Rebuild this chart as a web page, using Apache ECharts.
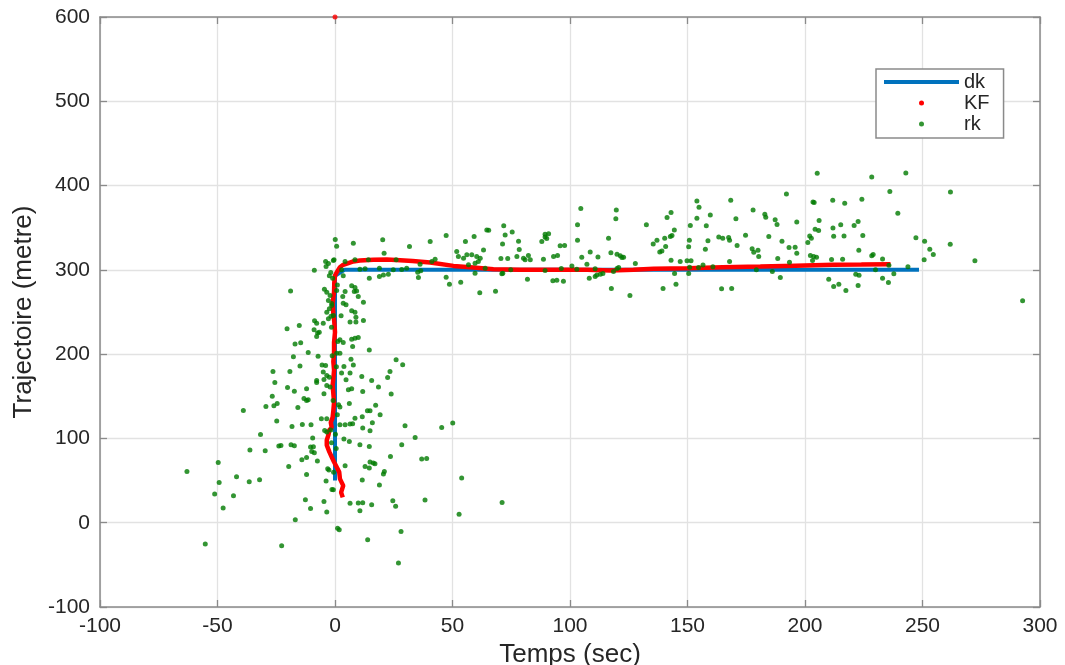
<!DOCTYPE html>
<html>
<head>
<meta charset="utf-8">
<script src="https://cdn.jsdelivr.net/npm/echarts@6/dist/echarts.min.js"></script>
<style>
html,body{margin:0;padding:0;background:#fff;}
#chart{width:1065px;height:665px;}
</style>
</head>
<body>
<div id="chart"></div>
<script>
// ---- data ----
const xTickMin = -100, xTickMax = 300, xTickStep = 50;
const yTickMin = -100, yTickMax = 600, yTickStep = 100;

// dk : reference trajectory
const dkT = [0, 0, 4, 248.5];
const dkY = [50, 293, 300, 300];

// KF : Kalman estimate
const kfT = [3.3,2.6,3.5,2.1,1.8,0.7,-0.4,-1.4,-2.4,-3.5,-3.5,-2.8,-2.4,-1.4,-1.8,-1.0,-0.7,-0.4,-0.7,-1.0,-0.7,-0.4,-0.7,-0.4,-0.4,0,-0.3,-0.7,-1.0,-0.4,-0.3,0,0.7,2.1,3.5,5.7,7.8,10.6,16.3,22,27.7,33,40.5,50.4,58.9,67.4,78.8,93,107.2,117.1,127,135.6,150,165,181,196,212,224,236.4];
const kfY = [30,36,44,52,60,66,72,78,84,92,98,104,110,113,119,125,133,143,153,163,171,181,191,202,214,226,238,248,260,274,285,293,297,303,306,308,310,311,312,312.3,311.5,310.5,308.7,304.7,302.8,300.8,300,300,300,299.3,300,301.2,302,303,304,305,306,306.3,306.7];
// isolated first KF sample on the top border
const kfStart = [[0, 600]];

// rk : noisy measurements [t, y]
const rk = [
[0.1,336],[0.7,328],[-4.0,310],[-2.8,307.5],[-0.4,312],[-8.8,299.6],[-1.8,297],[-2.4,293],[-18.9,275],[-4.5,277],[-3.5,273.5],[-2.1,269.6],[0.7,275.5],[-2.8,263.6],[-1.4,257.7],[-2.4,253.8],[-3.5,249.8],[-0.7,245.8],[-2.8,242],[-8.7,239.5],[-7.8,236.8],[-5.0,236.8],[-20.4,230],[-15.2,234],[-8.9,229],[-7.4,225],[-6.7,226],[-7.8,221],[-17.0,212],[-14.6,213.4],[-11.4,202],[-7.2,197.6],[-17.7,197],[-14.9,186],[-5.5,187],[-4.0,186.6],[-5.0,178.7],[-3.5,174.7],[-2.4,172.7],[-4.7,170],[-26.4,179.4],[-19.2,179.4],[-25.6,166.4],[-7.8,168.8],[-7.8,166.4],[-20.2,160.5],[-12.1,159],[-17.3,156],[-3.5,162.8],[-2.1,160.9],[-26.7,150],[-24.6,141.5],[-29.4,138],[-26,138.7],[-13.2,147.4],[-12.1,145],[-11.4,146],[-4.7,153],[-15.8,136.8],[-39.0,133.2],[-24.8,120.6],[-18.3,114.2],[-13.9,116.6],[-10.2,116.2],[-5.8,123.3],[-3.5,123.3],[-31.7,104.7],[-4.4,109.5],[-3.5,107.5],[-1.8,110],[-9.5,100.4],[-36.2,86.2],[-29.7,85.4],[-23.9,91],[-23,91.7],[-18.7,92.5],[-17.3,91.3],[-10.4,89.7],[-9.2,90.1],[-9.9,84.6],[-8.8,83],[-12.1,77.5],[-14.1,74.7],[-7.5,73.1],[-19.7,66.8],[-12.1,57.3],[-3.1,64],[-2.6,62.5],[-63.0,60.9],[-49.7,71.5],[-41.9,54.5],[-49.3,47.8],[-36.5,48.6],[-32.1,51],[-3.8,49.4],[-51.2,34],[-43.2,32],[-1.3,39.5],[-47.6,17.4],[-12.6,27.3],[-10.4,17],[-4.7,25.3],[-3.5,12.6],[-16.9,3.6],[1.1,-6.7],[-55.2,-25.3],[-22.7,-27.3],
[3.5,260.5],[4.7,258.5],[12.1,261.7],[2.6,245.5],[8.9,243.9],[7.1,251.4],[8.5,249.8],[6.4,238],[8.9,238],[12.1,240],[2.1,217],[7.1,217.8],[8.5,219],[9.9,219.8],[3.5,213.8],[7.5,209],[2.1,201],[14.6,205],[6.8,194],[26,193.3],[28.8,187.4],[3.8,185.4],[7.8,187],[2.8,177.5],[6.4,177.5],[11.4,173.5],[23.4,179.4],[22.4,172.3],[4.7,169.6],[15.6,168.8],[18.5,160.9],[5.7,157.7],[7.1,158.9],[11.8,155.7],[23.9,152.6],[6.1,141.5],[2.1,137.2],[17.3,139.5],[13.8,132.8],[14.9,132.8],[19.2,128],[8.5,124],[11.6,125.7],[2.1,116.2],[4.3,116.2],[6.4,117],[7.5,117.4],[15.9,118.6],[11.8,112.3],[14.9,109],[29.8,115],[45.4,113],[50.1,118.2],[34.1,101.2],[3.8,99.2],[6.1,96.4],[10.6,92.5],[14.6,90.5],[28.4,92.5],[23.6,78.7],[36.9,75.5],[39,76.3],[14.9,72],[16.3,70.8],[17,70],[4.3,67.6],[12.8,66.8],[14.6,64.8],[21,60.9],[20.6,57.7],[11.6,50.6],[18.9,44.7],[53.9,53],[-0.7,39],[6.4,23],[9.9,23.3],[11.8,23.7],[15.6,21.3],[24.6,26],[25.8,19.4],[38.3,26.9],[10.6,14.2],[52.8,9.9],[1.8,-8.3],[28.1,-10.3],[13.9,-20.2],[27,-47.8],[71.1,24],
[7.8,331.6],[20.3,335.6],[20.9,319.8],[31.7,327.7],[40.5,333.6],[47.3,340.7],[55.5,333.6],[59.2,339.5],[64.6,347.4],[63.2,323.7],[4.3,309.9],[8.5,311.9],[14.2,311.9],[26,311.9],[42.6,312.6],[41.2,309.9],[36.2,306.7],[51.8,321.7],[52.5,315.8],[54.7,313.8],[56.1,317.8],[58.2,317.8],[60.3,315.8],[61.8,313.8],[59.6,307.9],[61,309.9],[56.8,306],[59.6,296],[63.9,302],[10.6,300.8],[12.8,301.2],[18.9,302],[24.8,300],[28.4,300.4],[30.5,302],[36.5,298.8],[14.6,290],[18.9,292],[20.6,294],[22.7,294.7],[35.2,297.2],[35.5,291],[47.3,291.3],[48.7,283],[53.5,285.4],[61.6,272.7],[7.1,281],[8.5,279],[8.2,274.3],[9.9,268.4],[9.2,275],[4.3,274.3],[3.3,268.4],[3.5,293.1],[2.8,300],
[65.4,347],[71.8,352.2],[72.4,341.5],[75.4,345],[71.3,330.8],[78.1,334],[78.4,324.1],[77.4,315.8],[70.6,313.4],[73.5,313.4],[80.2,313.8],[82.3,317],[83.1,311.9],[80.9,311.9],[88.7,312.6],[93,315.8],[94.7,317],[88,333.6],[89.4,342.3],[90.1,337.2],[90.9,342.7],[89.4,339.1],[95.8,328.5],[97.7,328.9],[71.4,296],[71,295.3],[74.8,300],[81.9,289],[92.7,287],[94.4,287.7],[97.2,286.6],[68.3,274.7],[89.4,299.2],[96.3,301.6],[100.8,304.7],[102.9,300.8],[104.6,372.7],[103.2,353.4],[103.2,335.2],[105,315],[108.6,321.3],[111.9,315.4],[107.2,306.7],[110.7,301.2],[119.7,371.1],[119.5,360.5],[116.4,337.5],[117.4,320.2],[120,318.6],[121.4,316.6],[122.1,314.6],[122.8,315],[120.7,302.8],[120,301.6],[118.5,298],[108.2,290.1],[110.7,292.1],[111.4,294],[112.9,294.9],[114,295.7],[117.6,277.9],[125.5,269.6],[127.8,307.5],[132.5,353.4],[135.4,330.8],[137,335.2],[140.7,327.7],[138.2,321.3],[139.1,322.5],[143,311.5],[140.3,337.5],[142.7,339.5],[143.4,340.7],[144.4,347.4],[141.3,362],[143,368],[139.6,277.9],[145.1,283],[144.5,295.7],[146.9,309.9],[149.8,310.7],[154,381.8],[154.9,374.3],[154,361.3],[151.2,352.6],[150.8,335.2],[150.5,327.3],[151.5,310.7],[150.9,303.2],[150.5,295.7],[154.7,302.8],[156.6,305.9],[160.8,303.6],[159.7,365.2],[158,352.2],[158.7,334.4],[157.6,324.5],[163.3,339.1],[165,337.5],[167.5,338.3],[167.9,335.2],[171.1,328.9],[167.9,309.9],[168.4,382.6],[170.6,360.5],[174.7,341.1],[177.9,371.1],[177.5,324.9],[178.2,321],[180,323.3],[180.3,315.8],[179.3,300],[164.5,277.5],[168.8,277.9],
[182.9,366],[183.3,362.5],[187.3,359.4],[188.1,353.8],[196.5,356.9],[192.1,390.1],[184.6,339.5],[190.2,334],[193.2,326.5],[195.8,326.9],[196.5,319.8],[188.4,313.4],[193.4,309.1],[186.1,298],[189.5,290.9],[205.2,414.6],[203.4,380.6],[203.9,379.8],[211.8,382.6],[216.9,379],[224.2,383.8],[228.4,410.3],[236.1,392.9],[242.9,415],[239.5,367.2],[206,358.5],[204.3,348.2],[205.8,346.6],[202,340.3],[202.7,337.5],[201.2,332.4],[211.9,349.8],[215.2,353.4],[220.9,352.6],[222.6,357.3],[212.2,339.9],[216.6,340.3],[224.6,340.7],[222.9,323.3],[202.3,317],[203.7,315.8],[204.9,315],[203.2,311.1],[211.3,312.3],[216,312.6],[229,318.2],[228.4,316.6],[233,313],[235.7,305.5],[230,300],[210.1,289],[212.2,280.2],[214.4,283],[217.4,275.5],[221.6,294.9],[223,293.7],[222.6,281.4],[233,290.1],[235.5,285],[237.8,295.3],[243.8,303.6],[247.2,338],[250.9,334],[253.1,324.5],[254.6,318.2],[250.7,311.9],[261.9,392.5],[261.8,330.4],[272.3,310.7],[292.6,263.2],
[-1.4,260],[-1.7,245],[0.7,201],[-3.8,304],[-0.7,311],[-1.0,290],[1.0,282],[-1.5,232],[1.2,215],[-1.2,198],[0.6,185],[-0.8,145],[1.0,128],[-1.5,95],[0.5,88],[-0.6,60],[1.5,140],[0.2,105]
];

// ---- chart ----
const FONT = 'Liberation Sans';
const AXIS_COLOR = '#8a8a8a';
const TEXT_COLOR = '#262626';

const dkData = dkT.map((t, i) => [t, dkY[i]]);
const kfData = kfT.map((t, i) => [t, kfY[i]]);

const baseAxis = {
  type: 'value',
  axisLine: { show: true, onZero: false, lineStyle: { color: AXIS_COLOR, width: 1.5 } },
  axisTick: { show: true, inside: true, length: 7, lineStyle: { color: AXIS_COLOR, width: 1.3 } }
};

const chart = echarts.init(document.getElementById('chart'), null, { renderer: 'canvas' });
chart.setOption({
  animation: false,
  backgroundColor: '#ffffff',
  grid: { left: 100, right: 25, top: 17, bottom: 58, containLabel: false, outerBoundsMode: 'none' },
  xAxis: [
    Object.assign({}, baseAxis, {
      min: xTickMin, max: xTickMax, interval: xTickStep, position: 'bottom',
      name: 'Temps (sec)', nameLocation: 'middle', nameGap: 29,
      nameTextStyle: { fontFamily: FONT, fontSize: 26, color: TEXT_COLOR },
      axisLabel: { fontFamily: FONT, fontSize: 21, color: TEXT_COLOR, margin: 9 },
      splitLine: { show: true, lineStyle: { color: '#e2e2e2', width: 1.3 } }
    }),
    Object.assign({}, baseAxis, {
      min: xTickMin, max: xTickMax, interval: xTickStep, position: 'top',
      axisLabel: { show: false }, splitLine: { show: false }
    })
  ],
  yAxis: [
    Object.assign({}, baseAxis, {
      min: yTickMin, max: yTickMax, interval: yTickStep, position: 'left',
      name: 'Trajectoire (metre)', nameLocation: 'middle', nameGap: 60, nameRotate: 90,
      nameTextStyle: { fontFamily: FONT, fontSize: 26, color: TEXT_COLOR },
      axisLabel: { fontFamily: FONT, fontSize: 21, color: TEXT_COLOR, margin: 10 },
      splitLine: { show: true, lineStyle: { color: '#e2e2e2', width: 1.3 } }
    }),
    Object.assign({}, baseAxis, {
      min: yTickMin, max: yTickMax, interval: yTickStep, position: 'right',
      axisLabel: { show: false }, splitLine: { show: false }
    })
  ],
  legend: {
    orient: 'vertical', left: 876, top: 69,
    itemWidth: 75, itemHeight: 5, itemGap: 1,
    padding: [3, 14, 4, 8],
    backgroundColor: '#ffffff', borderColor: AXIS_COLOR, borderWidth: 1.5, borderRadius: 0,
    textStyle: { fontFamily: FONT, fontSize: 20, color: TEXT_COLOR },
    data: [
      { name: 'dk', icon: 'path://M0,0 L75,0 L75,4 L0,4 Z' },
      { name: 'KF', icon: 'circle' },
      { name: 'rk', icon: 'circle' }
    ]
  },
  series: [
    {
      name: 'dk', type: 'line', data: dkData, symbol: 'none',
      lineStyle: { color: '#0072BD', width: 4 }, itemStyle: { color: '#0072BD' }, z: 2
    },
    {
      name: 'KF', type: 'line', data: kfData, symbol: 'none', smooth: false,
      lineStyle: { color: '#ff0000', width: 4.5 }, itemStyle: { color: '#ff0000' }, z: 3
    },
    {
      name: 'KF', type: 'scatter', data: kfStart, symbolSize: 5,
      itemStyle: { color: '#ff0000' }, z: 3
    },
    {
      name: 'rk', type: 'scatter', data: rk, symbol: 'circle', symbolSize: 5,
      itemStyle: { color: '#007a00' }, z: 4
    }
  ]
});
</script>
</body>
</html>
